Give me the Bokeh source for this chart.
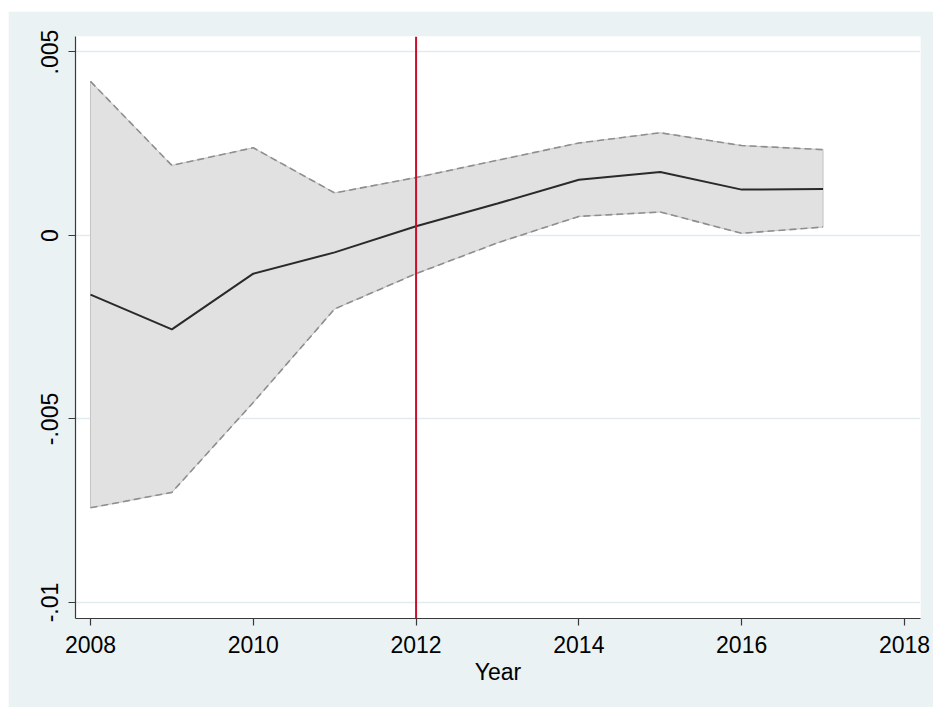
from bokeh.plotting import figure
from bokeh.models import Range1d, FixedTicker, Span
from bokeh.embed import file_html
from bokeh.resources import INLINE

# ---- data ----
years = [2008, 2009, 2010, 2011, 2012, 2013, 2014, 2015, 2016, 2017]
estimate = [-0.00161, -0.00256, -0.00104, -0.00046, 0.00025, 0.00087, 0.00152, 0.00173, 0.00125, 0.00127]
upper_ci = [0.00420, 0.00191, 0.00239, 0.00116, 0.00158, 0.00205, 0.00252, 0.00280, 0.00245, 0.00234]
lower_ci = [-0.00742, -0.00700, -0.00455, -0.00200, -0.00104, -0.00020, 0.00052, 0.00064, 0.00006, 0.00023]
event_year = 2012
x_ticks = [2008, 2010, 2012, 2014, 2016, 2018]
y_ticks = [-0.01, -0.005, 0.0, 0.005]
y_tick_labels = ["-.01", "-.005", "0", ".005"]
x_label = "Year"

FONT = "Liberation Sans Narrow, Arial Narrow, Liberation Sans, Arial, sans-serif"

p = figure(width=925, height=696, output_backend="svg", toolbar_location=None,
           x_range=Range1d(2007.816, 2018.197), y_range=Range1d(-0.010436, 0.005422),
           min_border_left=67, min_border_right=13, min_border_top=25, min_border_bottom=89)
p.margin = (11, 0, 0, 8)
p.background_fill_color = "white"
p.border_fill_color = "#EAF2F3"
p.outline_line_color = None

# confidence band
band_x = years + years[::-1]
band_y = upper_ci + lower_ci[::-1]
p.patch(band_x, band_y, fill_color="#E1E1E1", line_color="#C4C4C4", line_width=1)
p.line(years, upper_ci, line_color="#8E8E8E", line_width=1.6, line_dash="7 4")
p.line(years, lower_ci, line_color="#8E8E8E", line_width=1.6, line_dash="7 4")

# point estimate
p.line(years, estimate, line_color="#2A2A2A", line_width=2)

# event line
p.add_layout(Span(location=event_year, dimension="height", line_color="#C8102E", line_width=2))

# grid
p.xgrid.visible = False
p.ygrid.ticker = FixedTicker(ticks=y_ticks)
p.ygrid.grid_line_color = "#E2ECEF"
p.ygrid.grid_line_width = 1.5

# axes
for ax in (p.xaxis[0], p.yaxis[0]):
    ax.axis_line_color = "#3A3A3A"
    ax.axis_line_width = 1.2
    ax.major_tick_line_color = "#3A3A3A"
    ax.major_tick_line_width = 1.2
    ax.major_tick_out = 7
    ax.major_tick_in = 0
    ax.minor_tick_line_color = None
    ax.major_label_text_font = FONT
    ax.major_label_text_font_size = "23px"
    ax.major_label_text_color = "black"

p.xaxis.ticker = FixedTicker(ticks=x_ticks)
p.xaxis.major_label_standoff = 10
p.xaxis.axis_label = x_label
p.xaxis.axis_label_text_font = FONT
p.xaxis.axis_label_text_font_size = "23px"
p.xaxis.axis_label_text_font_style = "normal"
p.xaxis.axis_label_text_color = "black"
p.xaxis.axis_label_standoff = 3

p.yaxis.ticker = FixedTicker(ticks=y_ticks)
p.yaxis.major_label_overrides = {t: l for t, l in zip(y_ticks, y_tick_labels)}
p.yaxis.major_label_orientation = "vertical"
p.yaxis.major_label_standoff = 10

open("out.html", "w").write(file_html(p, INLINE))
